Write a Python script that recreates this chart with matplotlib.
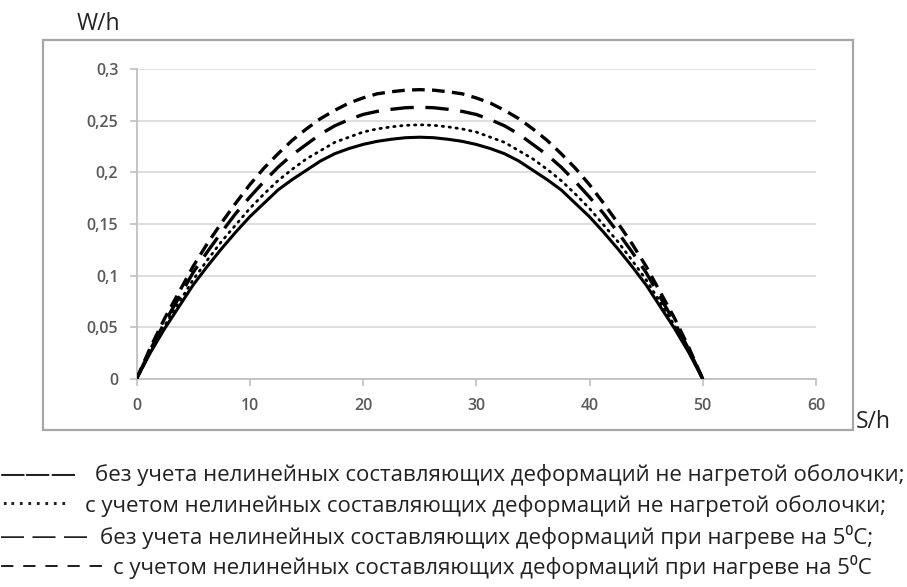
import matplotlib
matplotlib.use("Agg")
import matplotlib.pyplot as plt
from matplotlib.patches import Rectangle

plt.rcParams['font.family'] = ['Open Sans', 'DejaVu Sans']

# ---- data ----
s_h = [0, 1.25, 2.5, 3.75, 5, 6.25, 7.5, 8.75, 10, 11.25, 12.5, 13.75, 15, 16.25, 17.5,
       18.75, 20, 21.25, 22.5, 23.75, 25, 26.25, 27.5, 28.75, 30, 31.25, 32.5, 33.75,
       35, 36.25, 37.5, 38.75, 40, 41.25, 42.5, 43.75, 45, 46.25, 47.5, 48.75, 50]
w_cold_linear = [0, 0.026, 0.049, 0.070, 0.091, 0.109, 0.126, 0.142, 0.157, 0.170, 0.183,
                 0.193, 0.202, 0.211, 0.218, 0.223, 0.227, 0.230, 0.232, 0.2335, 0.234,
                 0.2335, 0.232, 0.230, 0.227, 0.223, 0.218, 0.211, 0.202, 0.193, 0.183,
                 0.170, 0.157, 0.142, 0.126, 0.109, 0.091, 0.070, 0.049, 0.026, 0]
w_cold_nonlin = [0, 0.027, 0.052, 0.074, 0.096, 0.115, 0.133, 0.149, 0.165, 0.179, 0.192,
                 0.203, 0.213, 0.221, 0.229, 0.234, 0.239, 0.242, 0.244, 0.2455, 0.246,
                 0.2455, 0.244, 0.242, 0.239, 0.234, 0.229, 0.221, 0.213, 0.203, 0.192,
                 0.179, 0.165, 0.149, 0.133, 0.115, 0.096, 0.074, 0.052, 0.027, 0]
w_hot_linear = [0, 0.029, 0.055, 0.079, 0.103, 0.123, 0.142, 0.160, 0.176, 0.191, 0.205,
                0.217, 0.227, 0.237, 0.245, 0.251, 0.256, 0.259, 0.261, 0.2625, 0.263,
                0.2625, 0.261, 0.259, 0.256, 0.251, 0.245, 0.237, 0.227, 0.217, 0.205,
                0.191, 0.176, 0.160, 0.142, 0.123, 0.103, 0.079, 0.055, 0.029, 0]
w_hot_nonlin = [0, 0.031, 0.059, 0.084, 0.109, 0.131, 0.151, 0.170, 0.188, 0.204, 0.218,
                0.231, 0.242, 0.252, 0.260, 0.267, 0.272, 0.276, 0.278, 0.2795, 0.280,
                0.2795, 0.278, 0.276, 0.272, 0.267, 0.260, 0.252, 0.242, 0.231, 0.218,
                0.204, 0.188, 0.170, 0.151, 0.131, 0.109, 0.084, 0.059, 0.031, 0]

x_ticks = [0, 10, 20, 30, 40, 50, 60]
y_ticks = [0, 0.05, 0.1, 0.15, 0.2, 0.25, 0.3]
y_tick_labels = ["0", "0,05", "0,1", "0,15", "0,2", "0,25", "0,3"]

legend_marks = ["———", "········", "— — —", "– – – – –"]
legend_texts = [
    "без учета нелинейных составляющих деформаций не нагретой оболочки;",
    "с учетом нелинейных составляющих деформаций не нагретой оболочки;",
    "без учета нелинейных составляющих деформаций при нагреве на 5⁰С;",
    "с учетом нелинейных составляющих деформаций при нагреве на 5⁰С",
]

W, H = 907, 587
fig = plt.figure(figsize=(W / 100, H / 100), dpi=100)
fig.patch.set_facecolor("white")

# outer frame
fig.patches.append(Rectangle((43 / W, 1 - 430 / H), (853 - 43) / W, (430 - 40) / H,
                             transform=fig.transFigure, fill=False,
                             edgecolor="#a6a6a6", linewidth=1.6, zorder=0))

ax = fig.add_axes([136.5 / W, 1 - 379 / H, (816 - 136.5) / W, (379 - 69) / H])
ax.set_xlim(0, 60)
ax.set_ylim(0, 0.3)

ax.plot(s_h, w_cold_linear, color="black", lw=2.2, solid_capstyle="round", zorder=5)
ax.plot(s_h, w_cold_nonlin, color="black", lw=2.0, linestyle=(0, (0.5, 2.0)),
        dash_capstyle="round", zorder=5)
ax.plot(s_h, w_hot_linear, color="black", lw=2.4, linestyle=(0, (7.0, 3.5)), zorder=5)
ax.plot(s_h, w_hot_nonlin, color="black", lw=2.4, linestyle=(0, (3.8, 2.2)), zorder=5)

ax.set_xticks(x_ticks)
ax.set_xticklabels([str(v) for v in x_ticks])
ax.set_yticks(y_ticks)
ax.set_yticklabels(y_tick_labels)

ax.grid(axis="y", color="#d9d9d9", linewidth=1.2)
ax.set_axisbelow(True)
for side in ("top", "right"):
    ax.spines[side].set_visible(False)
for side in ("left", "bottom"):
    ax.spines[side].set_color("#c0c0c0")
    ax.spines[side].set_linewidth(1.3)
ax.tick_params(axis="both", colors="#c0c0c0", length=5, width=1.2,
               labelcolor="#5a5a5a", labelsize=11.5)
ax.tick_params(axis="y", pad=8)
ax.tick_params(axis="x", pad=9)
for lbl in ax.get_xticklabels() + ax.get_yticklabels():
    lbl.set_fontweight("semibold")

fig.text(77 / W, 1 - 24 / H, "W/h", fontsize=16.5, color="#222222",
         ha="left", va="center")
fig.text(856 / W, 1 - 422 / H, "S/h", fontsize=16.5, color="#222222",
         ha="left", va="center")

ys = [475, 506, 537, 567]
text_x = [95, 85, 100, 113]
mark_sizes = [18.5, 19, 18, 21]
mark_fams = [['DejaVu Sans'], ['DejaVu Sans'], ['Open Sans'], ['Open Sans']]
for mark, txt, y, tx, ms, mf in zip(legend_marks, legend_texts, ys, text_x,
                                    mark_sizes, mark_fams):
    fig.text(0, 1 - y / H, mark, fontsize=ms, family=mf, color="#222222",
             ha="left", va="center")
    fig.text(tx / W, 1 - y / H, txt, fontsize=16, color="#222222",
             ha="left", va="center")

fig.savefig("out.png", dpi=100, facecolor="white")
